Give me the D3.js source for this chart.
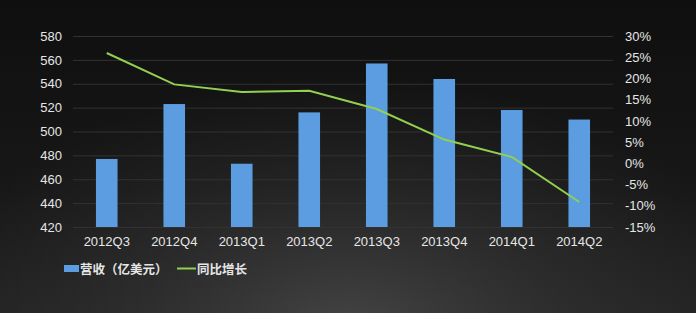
<!DOCTYPE html>
<html><head><meta charset="utf-8">
<script src="https://cdn.jsdelivr.net/npm/d3@7/dist/d3.min.js"></script>
<style>html,body{margin:0;padding:0;background:#141414;}svg{display:block;}</style>
</head><body>
<svg id="c" width="696" height="313"></svg>
<script>
const categories = ["2012Q3","2012Q4","2013Q1","2013Q2","2013Q3","2013Q4","2014Q1","2014Q2"];
const revenue = [477, 523, 473, 516, 557, 544, 518, 510];
const growth = [26.0, 18.6, 16.8, 17.1, 12.8, 5.6, 1.5, -9.1];
const leftTicks = [420,440,460,480,500,520,540,560,580];
const rightTicks = [-15,-10,-5,0,5,10,15,20,25,30];
const legendLabels = ["营收（亿美元）","同比增长"];

const W=696,H=313;
const m={l:73,r:83,t:36,b:86};
const svg=d3.select("#c");
const defs=svg.append("defs");
const lg=defs.append("linearGradient").attr("id","bg").attr("x1","0").attr("y1","0").attr("x2","0").attr("y2","1");
lg.append("stop").attr("offset","0").attr("stop-color","#0f0f0f");
lg.append("stop").attr("offset","0.6").attr("stop-color","#171717");
lg.append("stop").attr("offset","1").attr("stop-color","#222222");
const rg=defs.append("radialGradient").attr("id","glow").attr("cx","0.5").attr("cy","1.05").attr("r","0.62")
 .attr("gradientTransform","translate(0.5,1.05) scale(1,1.3) translate(-0.5,-1.05)");
rg.append("stop").attr("offset","0").attr("stop-color","#4a4a4a").attr("stop-opacity","0.85");
rg.append("stop").attr("offset","0.5").attr("stop-color","#3a3a3a").attr("stop-opacity","0.45");
rg.append("stop").attr("offset","1").attr("stop-color","#333333").attr("stop-opacity","0");
svg.append("rect").attr("width",W).attr("height",H).attr("fill","url(#bg)");
svg.append("rect").attr("width",W).attr("height",H).attr("fill","url(#glow)");

const x=d3.scaleBand().domain(categories).range([m.l,W-m.r]).paddingInner(0.68).paddingOuter(0.34);
const yL=d3.scaleLinear().domain([420,580]).range([H-m.b,m.t]);
const yR=d3.scaleLinear().domain([-15,30]).range([H-m.b,m.t]);

// gridlines
svg.append("g").selectAll("line").data(leftTicks).join("line")
 .attr("x1",m.l).attr("x2",W-m.r).attr("y1",d=>yL(d)+0.5).attr("y2",d=>yL(d)+0.5)
 .attr("stroke","#323232").attr("stroke-width",1);

const font="'Liberation Sans', Arial, sans-serif";
// left axis
const ga=svg.append("g").attr("transform",`translate(${m.l},0)`)
 .call(d3.axisLeft(yL).tickValues(leftTicks).tickSize(0).tickPadding(11));
ga.select(".domain").remove();
ga.selectAll("text").attr("fill","#e6e6e6").style("font-family",font).style("font-size","13px");
// right axis
const gr=svg.append("g").attr("transform",`translate(${W-m.r},0)`)
 .call(d3.axisRight(yR).tickValues(rightTicks).tickSize(0).tickPadding(12).tickFormat(d=>d+"%"));
gr.select(".domain").remove();
gr.selectAll("text").attr("fill","#e6e6e6").style("font-family",font).style("font-size","13px");
// bottom axis
const gb=svg.append("g").attr("transform",`translate(0,${H-m.b})`)
 .call(d3.axisBottom(x).tickSize(0).tickPadding(10));
gb.select(".domain").remove();
gb.selectAll("text").attr("fill","#e6e6e6").style("font-family",font).style("font-size","13px");

// bars
svg.append("g").selectAll("rect").data(revenue).join("rect")
 .attr("x",(d,i)=>x(categories[i])).attr("width",x.bandwidth())
 .attr("y",d=>yL(d)).attr("height",d=>yL(420)-yL(d))
 .attr("fill","#5b9de0");

// line
const line=d3.line().x((d,i)=>x(categories[i])+x.bandwidth()/2).y(d=>yR(d));
svg.append("path").datum(growth).attr("d",line).attr("fill","none")
 .attr("stroke","#92d050").attr("stroke-width",2);

// legend
const lgG=svg.append("g");
lgG.append("rect").attr("x",64).attr("y",265).attr("width",15).attr("height",7).attr("fill","#5b9de0");
lgG.append("text").attr("x",80).attr("y",273.5).text(legendLabels[0])
 .attr("fill","#e6e6e6").style("font-family","'Noto Sans CJK SC', sans-serif").style("font-size","12.5px").style("font-weight","bold");
lgG.append("line").attr("x1",177).attr("x2",196).attr("y1",268.5).attr("y2",268.5).attr("stroke","#92d050").attr("stroke-width",2);
lgG.append("text").attr("x",197).attr("y",273.5).text(legendLabels[1])
 .attr("fill","#e6e6e6").style("font-family","'Noto Sans CJK SC', sans-serif").style("font-size","12.5px").style("font-weight","bold");
</script>
</body></html>
